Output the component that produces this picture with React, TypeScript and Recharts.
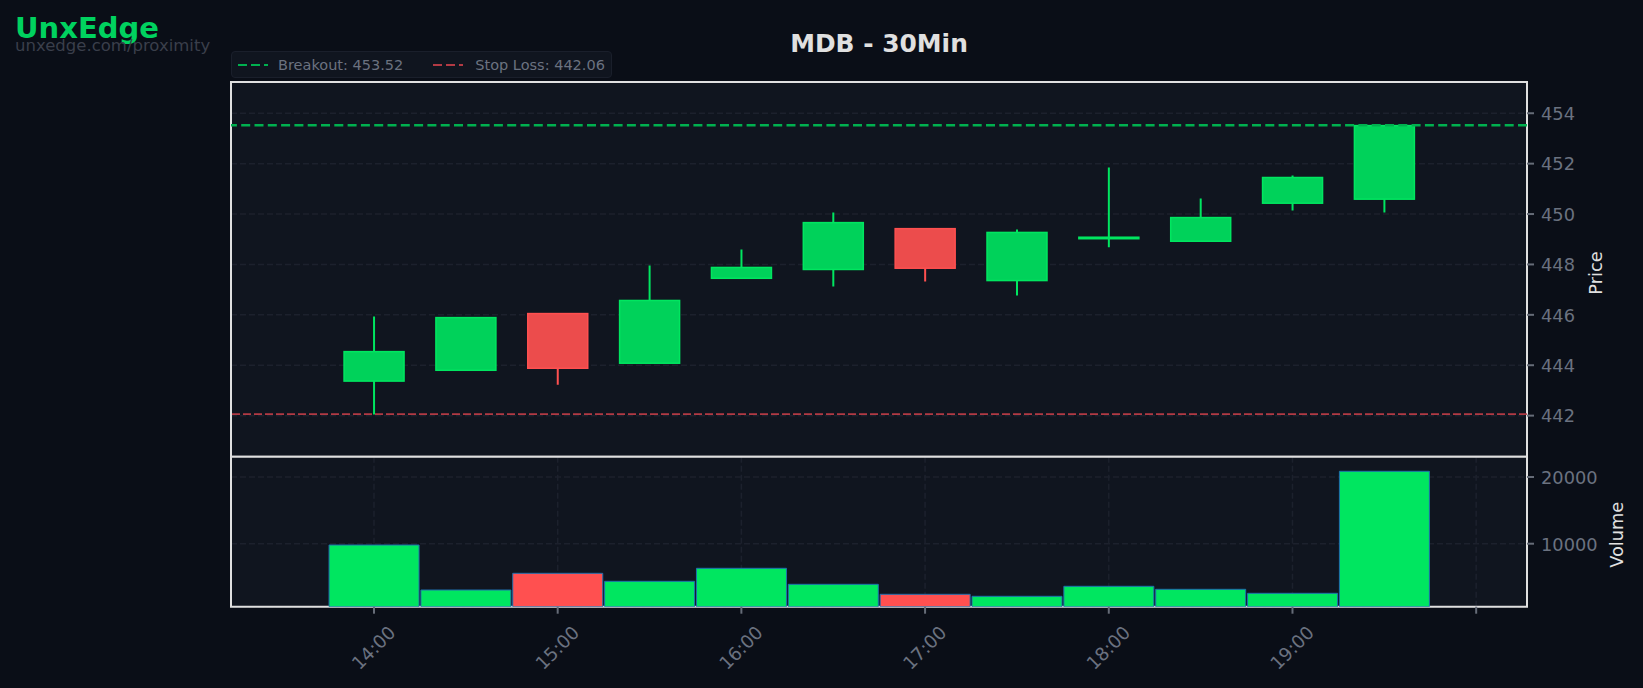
import React from 'react';
import {
  ComposedChart,
  Bar,
  Cell,
  XAxis,
  YAxis,
  CartesianGrid,
  ReferenceLine,
  ReferenceArea,
} from 'recharts';

// bar times in minutes since midnight
const times = [840, 870, 900, 930, 960, 990, 1020, 1050, 1080, 1110, 1140, 1170];
const opens = [443.37, 443.8, 446.05, 444.08, 447.45, 447.8, 449.42, 447.36, 449.02, 448.92, 450.43, 450.59];
const highs = [445.93, 445.89, 446.05, 447.96, 448.59, 450.06, 449.42, 449.39, 451.85, 450.62, 451.53, 453.52];
const lows = [442.04, 443.8, 443.23, 444.08, 447.45, 447.12, 447.32, 446.77, 448.68, 448.92, 450.14, 450.06];
const closes = [444.54, 445.89, 443.88, 446.57, 447.88, 449.66, 447.85, 449.27, 449.08, 449.86, 451.45, 453.51];
const volumes = [9805, 3058, 5562, 4363, 6312, 3913, 2414, 2114, 3613, 3163, 2564, 20855];

const hourTicks = [840, 900, 960, 1020, 1080, 1140, 1200];
const hourLabels = ['14:00', '15:00', '16:00', '17:00', '18:00', '19:00', ''];
const priceTicks = [442, 444, 446, 448, 450, 452, 454];
const volumeTicks = [10000, 20000];

const BREAKOUT = 453.52;
const STOP_LOSS = 442.06;
const X_DOMAIN: [number, number] = [793.3, 1216.6];
const PRICE_DOMAIN: [number, number] = [440.37, 455.24];
const VOLUME_DOMAIN: [number, number] = [555, 23043];

const candles = times.map((time, i) => ({
  time,
  open: opens[i],
  high: highs[i],
  low: lows[i],
  close: closes[i],
  range: [lows[i], highs[i]],
}));
const volumeRows = times.map((time, i) => ({ time, volume: volumes[i], down: closes[i] < opens[i] }));

const COLORS = {
  page: '#0a0e17',
  panel: '#10151f',
  grid: '#1c212d',
  frame: '#e0e0e0',
  tick: '#6b7280',
  tickLine: '#666c78',
  label: '#e0e0e0',
  up: '#00e660',
  upFill: '#00d25a',
  down: '#ff5050',
  downFill: '#ec4c4c',
  edge: '#1f6fae',
  breakout: '#00b04f',
  stop: '#b23a44',
};

function Candle(props: any) {
  const { x, y, width, height, payload } = props;
  const pxPerUnit = height / (payload.high - payload.low);
  const yOf = (v: number) => y + (payload.high - v) * pxPerUnit;
  const isUp = payload.close >= payload.open;
  const stroke = isUp ? COLORS.up : COLORS.down;
  const top = yOf(Math.max(payload.open, payload.close));
  const bottom = yOf(Math.min(payload.open, payload.close));
  const mid = x + width / 2;
  return (
    <g>
      <line x1={mid} x2={mid} y1={y} y2={y + height} stroke={stroke} strokeWidth={2} />
      <rect
        x={x}
        y={top}
        width={width}
        height={bottom - top}
        fill={isUp ? COLORS.upFill : COLORS.downFill}
        stroke={stroke}
        strokeWidth={1.5}
      />
    </g>
  );
}

function LegendSample({ color }: { color: string }) {
  return (
    <svg width={30} height={4} style={{ display: 'block' }}>
      <line x1={0} x2={30} y1={2} y2={2} stroke={color} strokeWidth={2} strokeDasharray="9 4" />
    </svg>
  );
}

const tickStyle = { fill: COLORS.tick, fontSize: 17.8 };
const tickLine = { stroke: COLORS.tickLine, strokeWidth: 2 };
const labelStyle = { fill: COLORS.label, fontSize: 17.8 };

export default function App() {
  return (
    <div
      style={{
        position: 'absolute',
        left: 0,
        top: 0,
        width: 1643,
        height: 688,
        overflow: 'hidden',
        background: COLORS.page,
        fontFamily: '"DejaVu Sans", sans-serif',
      }}
    >
      <div style={{ position: 'absolute', left: 0, top: 0 }}>
        <ComposedChart
          width={1643}
          height={470}
          data={candles}
          margin={{ top: 82, right: 0, bottom: 13.3, left: 231 }}
        >
          <CartesianGrid
            fill={COLORS.panel}
            stroke={COLORS.grid}
            strokeWidth={1.5}
            strokeDasharray="6 3"
          />
          <XAxis
            dataKey="time"
            type="number"
            domain={X_DOMAIN}
            ticks={hourTicks}
            height={0}
            tick={false}
            tickLine={false}
            axisLine={false}
          />
          <YAxis
            orientation="right"
            width={116}
            domain={PRICE_DOMAIN}
            ticks={priceTicks}
            allowDataOverflow
            tick={{ ...tickStyle, dy: 0.5 }}
            tickSize={7}
            tickMargin={7}
            tickLine={tickLine}
            axisLine={false}
            label={{ value: 'Price', angle: -90, position: 'insideRight', offset: 47, dy: -18, style: labelStyle }}
          />
          <Bar dataKey="range" barSize={60} shape={Candle} isAnimationActive={false} />
          <ReferenceLine y={BREAKOUT} stroke={COLORS.breakout} strokeWidth={2.5} strokeDasharray="9 4.3" />
          <ReferenceLine y={STOP_LOSS} stroke={COLORS.stop} strokeWidth={1.6} strokeDasharray="8 3" />
          <ReferenceArea
            x1={X_DOMAIN[0]}
            x2={X_DOMAIN[1]}
            y1={PRICE_DOMAIN[0]}
            y2={PRICE_DOMAIN[1]}
            fill="none"
            stroke={COLORS.frame}
            strokeWidth={2}
          />
        </ComposedChart>
      </div>

      <div style={{ position: 'absolute', left: 0, top: 440 }}>
        <ComposedChart
          width={1643}
          height={248}
          data={volumeRows}
          margin={{ top: 16.7, right: 0, bottom: 0, left: 231 }}
        >
          <CartesianGrid
            fill={COLORS.panel}
            stroke={COLORS.grid}
            strokeWidth={1.5}
            strokeDasharray="6 3"
          />
          <XAxis
            dataKey="time"
            type="number"
            domain={X_DOMAIN}
            ticks={hourTicks}
            height={81.3}
            tickFormatter={(v) => hourLabels[hourTicks.indexOf(v)]}
            tick={{ ...tickStyle, fontSize: 18.2, angle: -45, textAnchor: 'middle', dx: -5 }}
            tickSize={7}
            tickMargin={29.5}
            tickLine={tickLine}
            axisLine={false}
            interval={0}
          />
          <YAxis
            orientation="right"
            width={116}
            domain={VOLUME_DOMAIN}
            ticks={volumeTicks}
            allowDataOverflow
            tick={{ ...tickStyle, dy: 0.5 }}
            tickSize={7}
            tickMargin={7}
            tickLine={tickLine}
            axisLine={false}
            label={{ value: 'Volume', angle: -90, position: 'insideRight', offset: 26, dy: -30, style: labelStyle }}
          />
          <Bar dataKey="volume" barSize={90} stroke={COLORS.edge} strokeWidth={1} isAnimationActive={false}>
            {volumeRows.map((row) => (
              <Cell key={row.time} fill={row.down ? COLORS.down : COLORS.up} />
            ))}
          </Bar>
          <ReferenceArea
            x1={X_DOMAIN[0]}
            x2={X_DOMAIN[1]}
            y1={VOLUME_DOMAIN[0]}
            y2={VOLUME_DOMAIN[1]}
            fill="none"
            stroke={COLORS.frame}
            strokeWidth={2}
          />
        </ComposedChart>
      </div>

      <div
        style={{
          position: 'absolute',
          left: 231,
          width: 1296,
          top: 29,
          textAlign: 'center',
          color: COLORS.label,
          fontSize: 24.9,
          lineHeight: '30px',
          fontWeight: 700,
        }}
      >
        MDB - 30Min
      </div>
      <div
        style={{
          position: 'absolute',
          left: 15,
          top: 10.5,
          color: '#00d25f',
          fontSize: 29,
          lineHeight: '34px',
          fontWeight: 700,
        }}
      >
        UnxEdge
      </div>
      <div style={{ position: 'absolute', left: 15, top: 36, color: '#3a3f4b', fontSize: 16.5, lineHeight: '20px' }}>
        unxedge.com/proximity
      </div>

      <div
        style={{
          position: 'absolute',
          left: 231,
          top: 51,
          width: 381,
          height: 27,
          boxSizing: 'border-box',
          background: COLORS.panel,
          border: '1px solid #1a1f2b',
          borderRadius: 4,
          display: 'flex',
          alignItems: 'center',
          color: COLORS.tick,
          fontSize: 14.5,
          whiteSpace: 'nowrap',
        }}
      >
        <span style={{ marginLeft: 6 }}><LegendSample color={COLORS.breakout} /></span>
        <span style={{ marginLeft: 10 }}>Breakout: {BREAKOUT.toFixed(2)}</span>
        <span style={{ marginLeft: 30 }}><LegendSample color={COLORS.stop} /></span>
        <span style={{ marginLeft: 12 }}>Stop Loss: {STOP_LOSS.toFixed(2)}</span>
      </div>
    </div>
  );
}
